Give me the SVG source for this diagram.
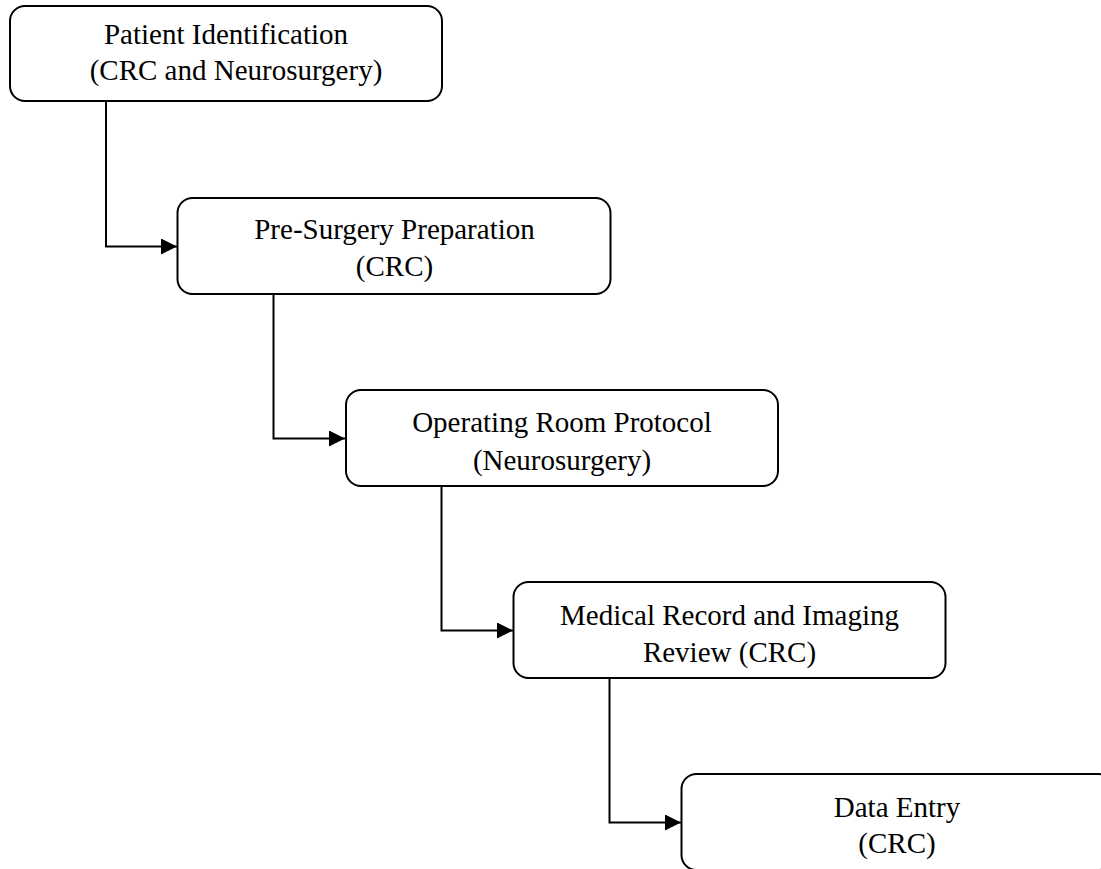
<svg xmlns="http://www.w3.org/2000/svg" width="1101" height="869" viewBox="0 0 1101 869">
<defs>
<style>
.box{fill:#fff;stroke:#000;stroke-width:2}
.lbl{font-family:"Liberation Serif","Times New Roman",serif;font-size:29px;fill:#000;text-anchor:middle}
.conn{fill:none;stroke:#000;stroke-width:2}
</style>
<marker id="arr" markerWidth="18" markerHeight="18" refX="16" refY="8" orient="auto" markerUnits="userSpaceOnUse">
<path d="M0,0 L16,8 L0,16 Z" fill="#000"/>
</marker>
</defs>
<rect width="1101" height="869" fill="#fff"/>
<g id="connectors">
<path class="conn" d="M106,101 V246.5 H177" marker-end="url(#arr)"/>
<path class="conn" d="M273.5,294 V438.5 H345" marker-end="url(#arr)"/>
<path class="conn" d="M441.5,486 V630.5 H513" marker-end="url(#arr)"/>
<path class="conn" d="M609.5,678 V822.5 H681" marker-end="url(#arr)"/>
</g>
<g id="node1">
<rect class="box" x="10" y="6" width="432" height="95" rx="15"/>
<text class="lbl" x="226" y="44">Patient Identification</text>
<text class="lbl" x="236" y="80">(CRC and Neurosurgery)</text>
</g>
<g id="node2">
<rect class="box" x="177.5" y="198" width="433" height="96" rx="15"/>
<text class="lbl" x="394.5" y="239">Pre-Surgery Preparation</text>
<text class="lbl" x="394.5" y="276">(CRC)</text>
</g>
<g id="node3">
<rect class="box" x="346" y="390" width="432" height="96" rx="15"/>
<text class="lbl" x="562" y="432">Operating Room Protocol</text>
<text class="lbl" x="562" y="470">(Neurosurgery)</text>
</g>
<g id="node4">
<rect class="box" x="513.5" y="582" width="432" height="96" rx="15"/>
<text class="lbl" x="729.5" y="625">Medical Record and Imaging</text>
<text class="lbl" x="729.5" y="662">Review (CRC)</text>
</g>
<g id="node5">
<rect class="box" x="681.5" y="774" width="432" height="96" rx="15"/>
<text class="lbl" x="897" y="817">Data Entry</text>
<text class="lbl" x="897" y="853">(CRC)</text>
</g>
</svg>
